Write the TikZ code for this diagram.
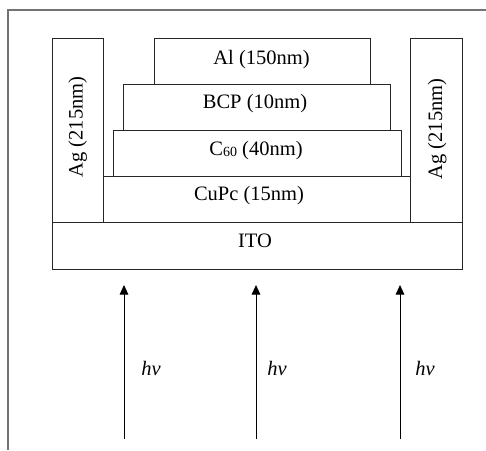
\documentclass[tikz,border=0pt]{standalone}
\usepackage{fontspec}
\setmainfont{Liberation Serif}
\usetikzlibrary{arrows.meta}
\begin{document}
\begin{tikzpicture}[x=1pt,y=-1pt,
  layer/.style={draw=black!85,line width=0.9pt,rectangle,inner sep=0pt,outer sep=0pt},
  lbl/.style={anchor=base,inner sep=0pt,font=\fontsize{20.5}{24}\selectfont},
  light/.style={-{Triangle[width=8.5pt,length=9.5pt]},line width=0.9pt,black},
  frameline/.style={draw=black!55,line width=1.2pt}]
\useasboundingbox (0,0) rectangle (486,450);
% outer frame
\draw[frameline] (8,450) -- (8,10) -- (486,10);
% layers
\node[layer,minimum width=51pt,minimum height=184pt] (agL) at (77.5,130) {};
\node[layer,minimum width=52pt,minimum height=184pt] (agR) at (436,130) {};
\node[layer,minimum width=410pt,minimum height=47pt] (ito) at (257,245.5) {};
\node[layer,minimum width=307pt,minimum height=46pt] (cupc) at (256.5,199) {};
\node[layer,minimum width=288pt,minimum height=46pt] (c60) at (257,153) {};
\node[layer,minimum width=267pt,minimum height=46pt] (bcp) at (256.5,107) {};
\node[layer,minimum width=216pt,minimum height=46pt] (al) at (262,61) {};
% labels
\node[lbl] (tal) at (261.5,64) {Al (150nm)};
\node[lbl] (tbcp) at (255,108) {BCP (10nm)};
\node[lbl] (tc60) at (256,155) {C\raisebox{-1.5pt}{\fontsize{14}{14}\selectfont 60} (40nm)};
\node[lbl] (tcupc) at (249,200) {CuPc (15nm)};
\node[lbl] (tito) at (255,247) {ITO};
\node[lbl,rotate=90] (tagL) at (82.5,127) {Ag (215nm)};
\node[lbl,rotate=90] (tagR) at (442,129) {Ag (215nm)};
% light arrows
\coordinate (s1) at (124,439); \coordinate (e1) at (124,285);
\coordinate (s2) at (256,439); \coordinate (e2) at (256,285);
\coordinate (s3) at (400,439); \coordinate (e3) at (400,285);
\draw[light] (s1) -- (e1);
\draw[light] (s2) -- (e2);
\draw[light] (s3) -- (e3);
\node[lbl] (hv1) at (151,375) {\itshape hv};
\node[lbl] (hv2) at (277,375) {\itshape hv};
\node[lbl] (hv3) at (425,375) {\itshape hv};
\end{tikzpicture}
\end{document}
